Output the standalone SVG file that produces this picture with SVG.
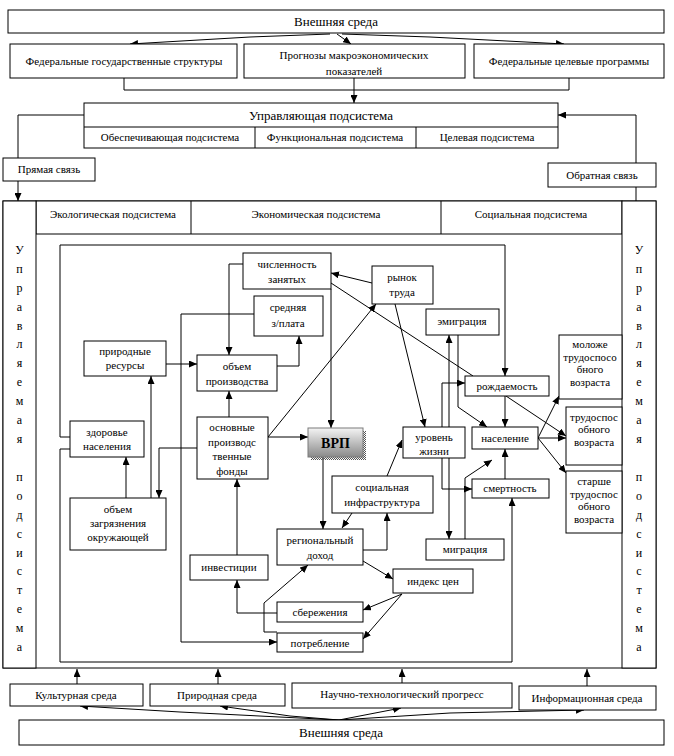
<svg xmlns="http://www.w3.org/2000/svg" width="674" height="756" viewBox="0 0 674 756">
<defs>
<style>
.b{fill:#fff;stroke:#000;stroke-width:1}
.t{font-family:"Liberation Serif","Times New Roman",serif;font-size:11px;text-anchor:middle;fill:#000}
.h{font-size:13px}
.v{font-size:12px}
.c{fill:none;stroke:#000;stroke-width:1}
.a{marker-end:url(#arr)}
</style>
<marker id="arr" viewBox="0 0 8 7" refX="8" refY="3.5" markerWidth="8" markerHeight="7" markerUnits="userSpaceOnUse" orient="auto">
<path d="M0,0 L8,3.5 L0,7 z" fill="#000"/>
</marker>
<linearGradient id="g" x1="0" y1="0" x2="0" y2="1">
<stop offset="0" stop-color="#f4f4f4"/>
<stop offset="1" stop-color="#8a8a8a"/>
</linearGradient>
<pattern id="dots" width="2" height="2" patternUnits="userSpaceOnUse">
<rect x="0" y="0" width="1" height="1" fill="#555"/>
<rect x="1" y="1" width="1" height="1" fill="#555"/>
</pattern>
</defs>
<rect x="0" y="0" width="674" height="756" fill="#fff"/>

<g id="system">
<rect class="b" x="3" y="201" width="653" height="467"/>
<rect class="b" x="36" y="201" width="586" height="33"/>
<line class="c" x1="191" y1="201" x2="191" y2="234"/>
<line class="c" x1="441" y1="201" x2="441" y2="234"/>
<text class="t" x="113" y="218">Экологическая подсистема</text>
<text class="t" x="316" y="218">Экономическая подсистема</text>
<text class="t" x="531" y="218">Социальная подсистема</text>
</g>

<g id="managed-left">
<rect class="b" x="3" y="201" width="33" height="467"/>
<text class="t v"><tspan x="19.5" y="254">У</tspan><tspan x="19.5" y="273">п</tspan><tspan x="19.5" y="292">р</tspan><tspan x="19.5" y="311">а</tspan><tspan x="19.5" y="330">в</tspan><tspan x="19.5" y="348">л</tspan><tspan x="19.5" y="367">я</tspan><tspan x="19.5" y="386">е</tspan><tspan x="19.5" y="405">м</tspan><tspan x="19.5" y="424">а</tspan><tspan x="19.5" y="443">я</tspan><tspan x="19.5" y="481">п</tspan><tspan x="19.5" y="500">о</tspan><tspan x="19.5" y="519">д</tspan><tspan x="19.5" y="538">с</tspan><tspan x="19.5" y="557">и</tspan><tspan x="19.5" y="575">с</tspan><tspan x="19.5" y="594">т</tspan><tspan x="19.5" y="613">е</tspan><tspan x="19.5" y="632">м</tspan><tspan x="19.5" y="651">а</tspan></text>
</g>

<g id="managed-right">
<rect class="b" x="622" y="201" width="34" height="467"/>
<text class="t v"><tspan x="639" y="254">У</tspan><tspan x="639" y="273">п</tspan><tspan x="639" y="292">р</tspan><tspan x="639" y="311">а</tspan><tspan x="639" y="330">в</tspan><tspan x="639" y="348">л</tspan><tspan x="639" y="367">я</tspan><tspan x="639" y="386">е</tspan><tspan x="639" y="405">м</tspan><tspan x="639" y="424">а</tspan><tspan x="639" y="443">я</tspan><tspan x="639" y="481">п</tspan><tspan x="639" y="500">о</tspan><tspan x="639" y="519">д</tspan><tspan x="639" y="538">с</tspan><tspan x="639" y="557">и</tspan><tspan x="639" y="575">с</tspan><tspan x="639" y="594">т</tspan><tspan x="639" y="613">е</tspan><tspan x="639" y="632">м</tspan><tspan x="639" y="651">а</tspan></text>
</g>

<g id="connectors">
<path class="c a" d="M330,34 L250,37 L130,44"/>
<path class="c a" d="M337,34 L351,44"/>
<path class="c a" d="M342,34 L430,37 L564,44"/>
<path class="c" d="M124,78 V90 H569 V78"/>
<path class="c a" d="M354,78 V103"/>
<path class="c a" d="M84,115 H18 V201"/>
<path class="c a" d="M636,201 V115 H558"/>
<path class="c a" d="M70,437 H60 V245 H505 V376"/>
<path class="c a" d="M70,449 H60 V662 H512 V498"/>
<path class="c a" d="M243,264 H229 V355"/>
<path class="c a" d="M254,314 H181 V642 H277"/>
<path class="c a" d="M277,366 H299 V336"/>
<path class="c a" d="M166,364 H197"/>
<path class="c a" d="M229,417 V391"/>
<path class="c a" d="M268,437 H308"/>
<path class="c a" d="M268,437 L376,304"/>
<path class="c a" d="M331,289 V428"/>
<path class="c a" d="M372,283 L331,273"/>
<path class="c" d="M331,283 L473,376"/>
<path class="c a" d="M395,304 L425,427"/>
<path class="c a" d="M442,427 V383 H465"/>
<path class="c a" d="M442,458 V489 H472"/>
<path class="c a" d="M449,427 V335"/>
<path class="c a" d="M449,458 V539"/>
<path class="c a" d="M458,335 V407 L487,427"/>
<path class="c a" d="M505,396 V427"/>
<path class="c a" d="M506,396 L566,436"/>
<path class="c a" d="M538,438 H566"/>
<path class="c a" d="M538,438 L559,396"/>
<path class="c a" d="M538,438 L566,473"/>
<path class="c a" d="M505,479 V449"/>
<path class="c a" d="M465,539 V478 L492,460"/>
<path class="c a" d="M387,476 L402,440"/>
<path class="c a" d="M352,513 L342,528"/>
<path class="c a" d="M323,457 V529"/>
<path class="c a" d="M363,550 H387 V513"/>
<path class="c a" d="M363,561 L393,579"/>
<path class="c a" d="M402,594 L363,610"/>
<path class="c a" d="M402,594 L363,639"/>
<path class="c a" d="M277,613 H237 V580"/>
<path class="c a" d="M237,555 V479"/>
<path class="c a" d="M277,632 H264 V603 L308,565"/>
<path class="c a" d="M197,448 H159 V498"/>
<path class="c a" d="M151,498 V376"/>
<path class="c a" d="M126,498 V457"/>
<path class="c a" d="M77,684 V669"/>
<path class="c a" d="M218,684 V669"/>
<path class="c a" d="M402,683 V669"/>
<path class="c a" d="M587,686 V669"/>
<path class="c a" d="M339,720 L180,712 L80,706"/>
<path class="c a" d="M339,720 L290,716 L220,706"/>
<path class="c a" d="M339,720 L401,708"/>
<path class="c a" d="M339,720 L450,713 L584,710"/>
</g>

<g id="ext-top"><rect class="b" x="8" y="10" width="656" height="23"/><text class="t h" x="336" y="26">Внешняя среда</text></g>
<g id="fed-struct"><rect class="b" x="10" y="44" width="227" height="34"/><text class="t" x="124" y="65">Федеральные государственные структуры</text></g>
<g id="forecast"><rect class="b" x="244" y="44" width="221" height="34"/><text class="t" x="354" y="59">Прогнозы макроэкономических</text><text class="t" x="354" y="75">показателей</text></g>
<g id="fed-prog"><rect class="b" x="474" y="44" width="190" height="34"/><text class="t" x="569" y="65">Федеральные целевые программы</text></g>
<g id="control">
<rect class="b" x="84" y="103" width="474" height="45"/>
<line class="c" x1="84" y1="127" x2="558" y2="127"/>
<line class="c" x1="255" y1="127" x2="255" y2="148"/>
<line class="c" x1="416" y1="127" x2="416" y2="148"/>
<text class="t h" x="321" y="120">Управляющая подсистема</text>
<text class="t" x="170" y="141">Обеспечивающая подсистема</text>
<text class="t" x="335" y="141">Функциональная подсистема</text>
<text class="t" x="487" y="141">Целевая подсистема</text>
</g>
<g id="direct"><rect class="b" x="3" y="158" width="92" height="23"/><text class="t" x="49" y="173">Прямая связь</text></g>
<g id="feedback"><rect class="b" x="548" y="163" width="108" height="24"/><text class="t" x="602" y="179">Обратная связь</text></g>

<g id="employed"><rect class="b" x="243" y="253" width="88" height="36"/><text class="t" x="287" y="268">численность</text><text class="t" x="287" y="283">занятых</text></g>
<g id="wage"><rect class="b" x="254" y="296" width="69" height="40"/><text class="t" x="288" y="311">средняя</text><text class="t" x="288" y="327">з/плата</text></g>
<g id="resources"><rect class="b" x="84" y="341" width="82" height="35"/><text class="t" x="125" y="355">природные</text><text class="t" x="125" y="369">ресурсы</text></g>
<g id="output"><rect class="b" x="197" y="355" width="80" height="36"/><text class="t" x="237" y="370">объем</text><text class="t" x="237" y="385">производства</text></g>
<g id="funds"><rect class="b" x="197" y="417" width="71" height="62"/><text class="t" x="232" y="431">основные</text><text class="t" x="232" y="446">производс</text><text class="t" x="232" y="460">твенные</text><text class="t" x="232" y="475">фонды</text></g>
<g id="grp"><rect x="311" y="431" width="55" height="29" fill="url(#dots)"/><rect x="308" y="428" width="55" height="29" fill="url(#g)" stroke="#7a7a7a"/><text class="t" x="335.5" y="448" style="font-size:14px;font-weight:bold">ВРП</text></g>
<g id="health"><rect class="b" x="70" y="421" width="74" height="36"/><text class="t" x="107" y="436">здоровье</text><text class="t" x="107" y="450">населения</text></g>
<g id="pollution"><rect class="b" x="70" y="498" width="96" height="52"/><text class="t" x="118" y="513">объем</text><text class="t" x="118" y="527">загрязнения</text><text class="t" x="118" y="541">окружающей</text></g>
<g id="invest"><rect class="b" x="190" y="555" width="78" height="25"/><text class="t" x="229" y="571">инвестиции</text></g>
<g id="income"><rect class="b" x="277" y="529" width="86" height="36"/><text class="t" x="320" y="544">региональный</text><text class="t" x="320" y="559">доход</text></g>
<g id="savings"><rect class="b" x="277" y="602" width="86" height="20"/><text class="t" x="320" y="616">сбережения</text></g>
<g id="consumption"><rect class="b" x="277" y="633" width="86" height="19"/><text class="t" x="320" y="647">потребление</text></g>
<g id="infra"><rect class="b" x="332" y="476" width="101" height="37"/><text class="t" x="382" y="491">социальная</text><text class="t" x="382" y="506">инфраструктура</text></g>
<g id="prices"><rect class="b" x="393" y="569" width="80" height="24"/><text class="t" x="433" y="585">индекс цен</text></g>
<g id="migration"><rect class="b" x="426" y="539" width="78" height="21"/><text class="t" x="465" y="553">миграция</text></g>
<g id="mortality"><rect class="b" x="472" y="479" width="77" height="19"/><text class="t" x="510" y="492">смертность</text></g>
<g id="population"><rect class="b" x="472" y="427" width="66" height="22"/><text class="t" x="505" y="442">население</text></g>
<g id="living"><rect class="b" x="403" y="427" width="62" height="31"/><text class="t" x="434" y="441">уровень</text><text class="t" x="434" y="455">жизни</text></g>
<g id="birth"><rect class="b" x="465" y="376" width="84" height="20"/><text class="t" x="507" y="390">рождаемость</text></g>
<g id="emigration"><rect class="b" x="426" y="309" width="73" height="26"/><text class="t" x="462" y="325">эмиграция</text></g>
<g id="labour"><rect class="b" x="372" y="266" width="61" height="38"/><text class="t" x="402" y="281">рынок</text><text class="t" x="402" y="296">труда</text></g>
<g id="young"><rect class="b" x="559" y="335" width="63" height="64"/><text class="t" x="590" y="348">моложе</text><text class="t" x="590" y="361">трудоспосо</text><text class="t" x="590" y="373">бного</text><text class="t" x="590" y="386">возраста</text></g>
<g id="working"><rect class="b" x="566" y="407" width="56" height="58"/><text class="t" x="594" y="421">трудоспос</text><text class="t" x="594" y="433">обного</text><text class="t" x="594" y="446">возраста</text></g>
<g id="older"><rect class="b" x="566" y="471" width="56" height="62"/><text class="t" x="594" y="485">старше</text><text class="t" x="594" y="498">трудоспос</text><text class="t" x="594" y="510">обного</text><text class="t" x="594" y="523">возраста</text></g>

<g id="culture"><rect class="b" x="10" y="684" width="133" height="22"/><text class="t" x="76" y="699">Культурная среда</text></g>
<g id="nature"><rect class="b" x="150" y="684" width="135" height="22"/><text class="t" x="217" y="699">Природная среда</text></g>
<g id="science"><rect class="b" x="292" y="683" width="220" height="25"/><text class="t" x="402" y="698">Научно-технологический прогресс</text></g>
<g id="info"><rect class="b" x="519" y="686" width="137" height="24"/><text class="t" x="587" y="702">Информационная среда</text></g>
<g id="ext-bottom"><rect class="b" x="19" y="720" width="645" height="25"/><text class="t h" x="341" y="737">Внешняя среда</text></g>
</svg>
